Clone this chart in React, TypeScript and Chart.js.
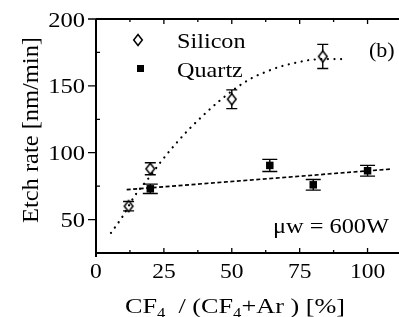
import React, { useEffect, useRef } from "react";
import { Chart, registerables } from "chart.js";
Chart.register(...registerables);

// ---- data ----
const siliconX = [12, 20, 50, 83.5];
const siliconY = [60, 88, 140, 172];
const siliconErr = [3.5, 4.5, 7, 9];
const quartzX = [20, 64, 80, 100];
const quartzY = [73, 90.5, 76, 86.5];
const quartzErr = [3.5, 4.5, 4, 4];
const siliconFitX = [5.5, 10, 14, 19, 24, 29.5, 34, 39, 45, 52, 58, 62, 68, 74, 79, 85, 91];
const siliconFitY = [40, 53, 67, 80, 93.5, 107, 117, 127, 138, 149, 156.5, 160, 164.5, 167.5, 169.4, 170, 170];
const quartzFitX = [11.3, 109];
const quartzFitY = [72.4, 87.8];
const xTickValues = [0, 25, 50, 75, 100];
const xTickLabels = ["0", "25", "50", "75", "100"];
const xMinorValues = [12.5, 37.5, 62.5, 87.5];
const yTickValues = [50, 100, 150, 200];
const yTickLabels = ["50", "100", "150", "200"];
const yMinorValues = [75, 125, 175];
const seriesNames = ["Silicon", "Quartz"];
const yTitle = "Etch rate [nm/min]";
const xTitleParts: [string, boolean][] = [
  ["CF", false],
  ["4", true],
  ["  / (CF", false],
  ["4", true],
  ["+Ar ) [%]", false],
];
const panelLabel = "(b)";
const powerNote = "\u03bcw = 600W";

const FONT = '"Liberation Serif", "Times New Roman", serif';

function makeDiamond(): HTMLCanvasElement {
  const c = document.createElement("canvas");
  c.width = 12;
  c.height = 14;
  const g = c.getContext("2d")!;
  g.fillStyle = "#fff";
  g.strokeStyle = "#000";
  g.lineWidth = 1.5;
  g.beginPath();
  g.moveTo(6, 1.5);
  g.lineTo(10.3, 7);
  g.lineTo(6, 12.5);
  g.lineTo(1.7, 7);
  g.closePath();
  g.fill();
  g.stroke();
  return c;
}

function txt(
  ctx: CanvasRenderingContext2D,
  s: string,
  x: number,
  y: number,
  size: number,
  sx: number,
  align: "left" | "center" | "right",
  targetWidth?: number
) {
  ctx.save();
  ctx.font = `${size}px ${FONT}`;
  const raw = ctx.measureText(s).width;
  const scale = targetWidth ? targetWidth / raw : sx;
  const w = raw * scale;
  const left = align === "left" ? x : align === "center" ? x - w / 2 : x - w;
  ctx.translate(left, y);
  ctx.scale(scale, 1);
  ctx.textAlign = "left";
  ctx.textBaseline = "alphabetic";
  ctx.fillStyle = "#000";
  ctx.fillText(s, 0, 0);
  ctx.restore();
}

const paperPlugin = {
  id: "paper",
  beforeDatasetsDraw(chart: any) {
    const ctx: CanvasRenderingContext2D = chart.ctx;
    const xs = chart.scales.x;
    const ys = chart.scales.y;
    ctx.save();
    ctx.strokeStyle = "#000";
    ctx.lineWidth = 1.4;
    chart.data.datasets.forEach((ds: any) => {
      if (!ds.errors) return;
      ds.data.forEach((p: any, i: number) => {
        const px = xs.getPixelForValue(p.x);
        const top = ys.getPixelForValue(p.y + ds.errors[i]);
        const bot = ys.getPixelForValue(p.y - ds.errors[i]);
        const w = ds.capHalf;
        ctx.beginPath();
        ctx.moveTo(px, top);
        ctx.lineTo(px, bot);
        ctx.moveTo(px - w, top);
        ctx.lineTo(px + w, top);
        ctx.moveTo(px - w, bot);
        ctx.lineTo(px + w, bot);
        ctx.stroke();
      });
    });
    ctx.restore();
  },
  afterDraw(chart: any) {
    const ctx: CanvasRenderingContext2D = chart.ctx;
    const xs = chart.scales.x;
    const ys = chart.scales.y;
    const a = chart.chartArea;
    ctx.save();
    ctx.strokeStyle = "#000";
    ctx.lineWidth = 2;
    // frame
    ctx.beginPath();
    ctx.moveTo(a.left, a.top);
    ctx.lineTo(a.left, a.bottom + 4);
    ctx.moveTo(a.left - 1, a.bottom);
    ctx.lineTo(chart.width, a.bottom);
    ctx.moveTo(a.left, a.top);
    ctx.lineTo(chart.width, a.top);
    ctx.stroke();
    ctx.lineWidth = 1.3;
    ctx.beginPath();
    yTickValues.forEach((v) => {
      const py = ys.getPixelForValue(v);
      ctx.moveTo(a.left - 8, py);
      ctx.lineTo(a.left, py);
    });
    yMinorValues.forEach((v) => {
      const py = ys.getPixelForValue(v);
      ctx.moveTo(a.left, py);
      ctx.lineTo(a.left + 4, py);
    });
    xTickValues.forEach((v) => {
      const px = xs.getPixelForValue(v);
      ctx.moveTo(px, a.bottom);
      ctx.lineTo(px, a.bottom - 5);
      ctx.moveTo(px, a.top);
      ctx.lineTo(px, a.top + 5);
    });
    xMinorValues.forEach((v) => {
      const px = xs.getPixelForValue(v);
      ctx.moveTo(px, a.bottom);
      ctx.lineTo(px, a.bottom - 3);
      ctx.moveTo(px, a.top);
      ctx.lineTo(px, a.top + 3);
    });
    ctx.stroke();
    ctx.restore();

    // tick labels
    yTickValues.forEach((v, i) => {
      txt(ctx, yTickLabels[i], a.left - 11, ys.getPixelForValue(v) + 7.5, 21, 1.17, "right");
    });
    xTickValues.forEach((v, i) => {
      txt(ctx, xTickLabels[i], xs.getPixelForValue(v), a.bottom + 25, 21, 1.12, "center");
    });

    // legend
    ctx.save();
    ctx.drawImage(diamondImg, 138 - 6, 40 - 7);
    ctx.fillStyle = "#000";
    ctx.fillRect(137, 65, 7, 7);
    ctx.restore();
    txt(ctx, seriesNames[0], 177, 48, 22, 1.1, "left");
    txt(ctx, seriesNames[1], 177, 77, 22, 1.1, "left");

    // annotations
    txt(ctx, panelLabel, 369, 57, 21, 1.05, "left");
    txt(ctx, powerNote, 273, 233, 21, 1, "left", 116);

    // y title
    ctx.save();
    ctx.translate(38, 130);
    ctx.rotate(-Math.PI / 2);
    txt(ctx, yTitle, 0, 0, 24, 1, "center", 186);
    ctx.restore();

    // x title with subscripts
    ctx.save();
    let total = 0;
    const widths = xTitleParts.map(([s, sub]) => {
      ctx.font = `${sub ? 14 : 22}px ${FONT}`;
      const w = ctx.measureText(s).width;
      total += w;
      return w;
    });
    const sc = 220 / total;
    let cx = 125;
    xTitleParts.forEach(([s, sub], i) => {
      ctx.save();
      ctx.font = `${sub ? 14 : 22}px ${FONT}`;
      ctx.fillStyle = "#000";
      ctx.textBaseline = "alphabetic";
      ctx.translate(cx, sub ? 318 : 313);
      ctx.scale(sc, 1);
      ctx.fillText(s, 0, 0);
      ctx.restore();
      cx += widths[i] * sc;
    });
    ctx.restore();
  },
};

let diamondImg: HTMLCanvasElement;

export default function App() {
  const ref = useRef<HTMLCanvasElement>(null);
  useEffect(() => {
    if (!ref.current) return;
    diamondImg = makeDiamond();
    const chart = new Chart(ref.current, {
      type: "scatter",
      data: {
        datasets: [
          {
            label: "Silicon fit",
            data: siliconFitX.map((x, i) => ({ x, y: siliconFitY[i] })),
            showLine: true,
            pointRadius: 0,
            borderColor: "#000",
            borderWidth: 2.2,
            borderDash: [0.1, 6.5],
            borderCapStyle: "round",
            cubicInterpolationMode: "monotone",
            fill: false,
          } as any,
          {
            label: "Quartz fit",
            data: quartzFitX.map((x, i) => ({ x, y: quartzFitY[i] })),
            showLine: true,
            pointRadius: 0,
            borderColor: "#000",
            borderWidth: 1.7,
            borderDash: [4, 2.5],
            fill: false,
          } as any,
          {
            label: seriesNames[0],
            data: siliconX.map((x, i) => ({ x, y: siliconY[i] })),
            pointStyle: diamondImg,
            pointRadius: 6,
            errors: siliconErr,
            capHalf: 5.5,
          } as any,
          {
            label: seriesNames[1],
            data: quartzX.map((x, i) => ({ x, y: quartzY[i] })),
            pointStyle: "rect",
            pointRadius: 5.3,
            backgroundColor: "#000",
            borderColor: "#000",
            borderWidth: 0,
            errors: quartzErr,
            capHalf: 7.5,
          } as any,
        ],
      },
      options: {
        animation: false,
        responsive: false,
        devicePixelRatio: 1,
        layout: { padding: { top: 19, right: 1, left: 0, bottom: 0 } },
        plugins: { legend: { display: false }, tooltip: { enabled: false } },
        scales: {
          x: {
            type: "linear",
            min: 0,
            max: 109,
            grid: { display: false, drawTicks: false },
            border: { display: false },
            ticks: { display: false },
            afterFit: (s: any) => {
              s.height = 64;
            },
          },
          y: {
            type: "linear",
            min: 25,
            max: 200,
            grid: { display: false, drawTicks: false },
            border: { display: false },
            ticks: { display: false },
            afterFit: (s: any) => {
              s.width = 96;
            },
          },
        },
      },
      plugins: [paperPlugin],
    });
    return () => chart.destroy();
  }, []);
  return (
    <div style={{ position: "absolute", left: 0, top: 0, width: 399, height: 317, overflow: "hidden", background: "#fff" }}>
      <canvas ref={ref} width={399} height={317} style={{ display: "block" }} />
    </div>
  );
}
